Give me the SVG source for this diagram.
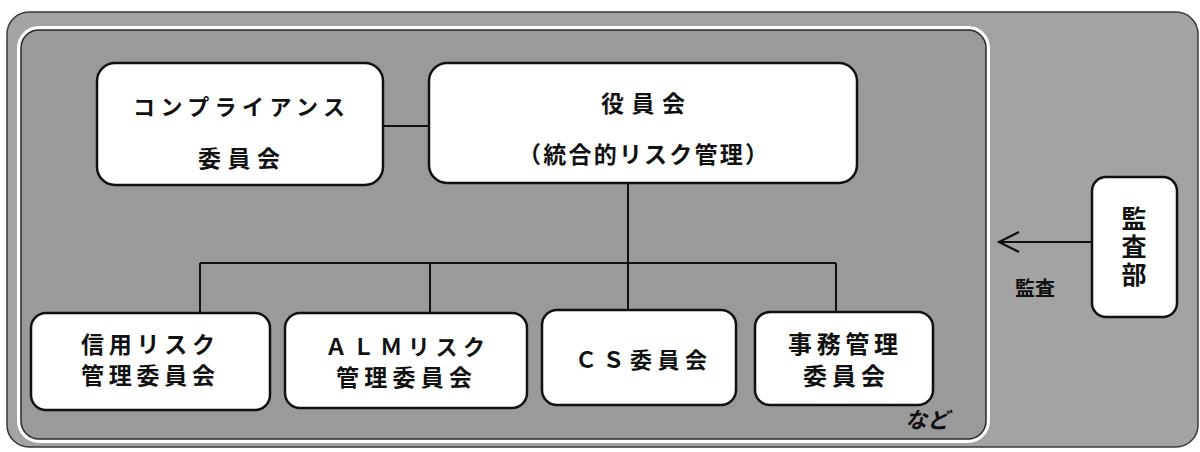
<svg xmlns="http://www.w3.org/2000/svg" width="1200" height="452" viewBox="0 0 1200 452">
  <defs>
    <style>
      .bg { fill: #ffffff; }
      .outer { fill: #a3a3a3; stroke: #3a3a3a; stroke-width: 1.5; }
      .inner-halo { fill: none; stroke: #ffffff; stroke-width: 4; }
      .inner { fill: #9a9a9a; stroke: #2a2a2a; stroke-width: 1.5; }
      .node { fill: #ffffff; stroke: #111111; stroke-width: 2.5; }
      .link { fill: none; stroke: #111111; stroke-width: 2; }
      .t { font-family: "Noto Sans CJK JP", "Noto Sans", sans-serif; fill: #111111; text-anchor: middle; font-weight: 600; }
      .t22 { font-size: 22px; }
      .t23 { font-size: 23px; }
      .t24 { font-size: 24px; }
    </style>
    <marker id="chev" viewBox="0 0 24 24" refX="22" refY="12" markerWidth="24" markerHeight="24" markerUnits="userSpaceOnUse" orient="auto">
      <path d="M2,2 L22,12 L2,22" fill="none" stroke="#111111" stroke-width="2.2"/>
    </marker>
  </defs>

  <rect class="bg" x="0" y="0" width="1200" height="452"/>

  <g id="outer-frame">
    <rect class="outer" x="7" y="12" width="1191" height="435" rx="22" ry="22"/>
  </g>

  <g id="inner-frame">
    <rect class="inner-halo" x="19" y="28" width="969" height="413" rx="20" ry="20"/>
    <rect class="inner" x="21" y="30" width="965" height="409" rx="18" ry="18"/>
  </g>

  <g id="connectors">
    <line class="link" x1="383" y1="126" x2="429" y2="126"/>
    <line class="link" x1="628" y1="183" x2="628" y2="263"/>
    <line class="link" x1="200" y1="263" x2="836" y2="263"/>
    <line class="link" x1="200" y1="263" x2="200" y2="313"/>
    <line class="link" x1="430" y1="263" x2="430" y2="313"/>
    <line class="link" x1="628" y1="263" x2="628" y2="310"/>
    <line class="link" x1="836" y1="263" x2="836" y2="312"/>
    <line class="link" x1="1092" y1="242" x2="999" y2="242" marker-end="url(#chev)"/>
  </g>

  <g id="node-compliance">
    <rect class="node" x="97" y="63" width="286" height="122" rx="18" ry="18"/>
    <text class="t t22" x="239" y="115" textLength="212" lengthAdjust="spacing">コンプライアンス</text>
    <text class="t t23" x="239" y="167" textLength="82" lengthAdjust="spacing">委員会</text>
  </g>

  <g id="node-board">
    <rect class="node" x="429" y="63" width="428" height="120" rx="18" ry="18"/>
    <text class="t t23" x="643" y="112" textLength="84" lengthAdjust="spacing">役員会</text>
    <text class="t t23" x="643" y="163" textLength="250" lengthAdjust="spacing">（統合的リスク管理）</text>
  </g>

  <g id="node-credit">
    <rect class="node" x="31" y="313" width="239" height="97" rx="15" ry="15"/>
    <text class="t t23"><tspan x="148" y="353" textLength="134" lengthAdjust="spacing">信用リスク</tspan><tspan x="148" y="384" textLength="134" lengthAdjust="spacing">管理委員会</tspan></text>
  </g>

  <g id="node-alm">
    <rect class="node" x="285" y="313" width="242" height="95" rx="15" ry="15"/>
    <text class="t t23"><tspan class="t22" x="405" y="355" textLength="160" lengthAdjust="spacing">ＡＬＭリスク</tspan><tspan x="404" y="386" textLength="136" lengthAdjust="spacing">管理委員会</tspan></text>
  </g>

  <g id="node-cs">
    <rect class="node" x="542" y="310" width="194" height="95" rx="15" ry="15"/>
    <text class="t t22" x="641" y="368" textLength="132" lengthAdjust="spacing">ＣＳ委員会</text>
  </g>

  <g id="node-jimu">
    <rect class="node" x="755" y="312" width="178" height="93" rx="15" ry="15"/>
    <text class="t t24"><tspan x="843" y="353" textLength="110" lengthAdjust="spacing">事務管理</tspan><tspan x="844" y="385" textLength="82" lengthAdjust="spacing">委員会</tspan></text>
  </g>

  <g id="node-audit">
    <rect class="node" x="1092" y="177" width="85" height="140" rx="14" ry="14"/>
    <text class="t" style="font-size:25px;writing-mode:vertical-rl;letter-spacing:3px" x="1134" y="248">監査部</text>
  </g>

  <g id="labels">
    <text class="t" style="font-size:20px;font-weight:bold" x="1035" y="296">監査</text>
    <text class="t" style="font-size:22px;font-style:italic" x="927" y="428">など</text>
  </g>
</svg>
